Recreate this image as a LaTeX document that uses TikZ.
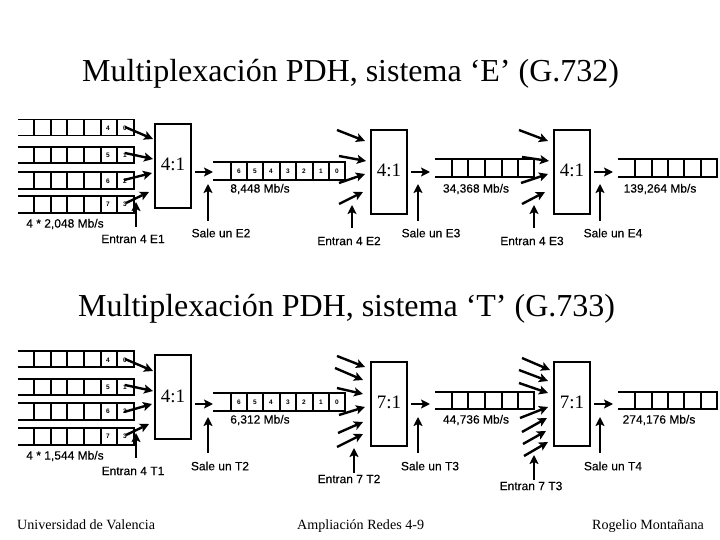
\documentclass[tikz,border=0pt]{standalone}
\usepackage{fontspec}
\setmainfont{Liberation Serif}
\setsansfont[UprightFeatures={FakeBold=0.25}]{Liberation Sans}
\usetikzlibrary{arrows.meta}
\newcounter{flechan}
\newcommand{\flecha}[2]{\stepcounter{flechan}%
  \coordinate (fa\theflechan) at (#1);\coordinate (fb\theflechan) at (#2);%
  \draw[flechast] (fa\theflechan) -- (fb\theflechan);}
% open-left register: start x, list of divider x (last = right end), top y, bottom y
\newcommand{\registro}[5]{%
  \draw[regst] (#1,#3) -- (#5,#3) -- (#5,#4) -- (#1,#4);
  \foreach \xd in {#2} {\draw[regst] (\xd,#3) -- (\xd,#4);}}
\tikzset{
  x=1pt,y=-1pt,
  flechast/.style={line width=2.4pt,-{Stealth[length=9pt,width=9pt,inset=2pt]}},
  regst/.style={line width=1.5pt,black},
  muxbox/.style={draw,line width=1.5pt,minimum width=36pt,inner sep=0pt},
  muxtxt/.style={inner sep=0pt,font=\fontsize{19}{22}\selectfont},
  titulo/.style={inner sep=0pt,anchor=base west,font=\fontsize{32}{34}\selectfont},
  etiq/.style={inner sep=0pt,font=\sffamily\fontsize{12}{14}\selectfont},
  digito/.style={inner sep=0pt,font=\sffamily\bfseries\fontsize{6.5}{7}\selectfont},
  pie/.style={inner sep=0pt,anchor=base west,font=\fontsize{14.1}{17}\selectfont},
}
\begin{document}
\begin{tikzpicture}
\useasboundingbox (0,0) rectangle (720,540);
\fill[white] (0,0) rectangle (720,540);
\node[titulo] (t1) at (82,82) {Multiplexación PDH, sistema ‘E’ (G.732)};
\node[titulo] (t2) at (78,316) {Multiplexación PDH, sistema ‘T’ (G.733)};
% ---- E system: tributaries
\registro{18}{34,51,67,84,101,117}{119.5}{135.5}{134}
\registro{18}{34,51,67,84,101,117}{147}{163}{134}
\registro{18}{34,51,67,84,101,117}{172}{189}{134}
\registro{18}{34,51,67,84,101,117}{196}{213}{134}
\node[digito] (ea4) at (108,128) {4}; \node[digito] (ea0) at (125,128) {0};
\node[digito] (ea5) at (108,155) {5}; \node[digito] (ea1) at (125,155) {1};
\node[digito] (ea6) at (108,181) {6}; \node[digito] (ea2) at (125,181) {2};
\node[digito] (ea7) at (108,204) {7}; \node[digito] (ea3) at (125,204) {3};
\node[muxbox,minimum height=84pt] (em1) at (173,166) {};
\node[muxtxt] (em1t) at (173,164) {4:1};
\flecha{125,127}{153,139}\flecha{125,153}{153,159}\flecha{124,180}{152,173}\flecha{126,203}{149,192}
\flecha{136,227}{136,202}\flecha{195,172}{213,172}\flecha{208,221}{208,184}
% E2 register
\registro{213}{231,247,263,280,296,313,329}{162}{180}{345}
\foreach \xx/\dd in {239/6,255/5,271/4,288/3,304/2,321/1,337/0}{\node[digito] (ed\dd) at (\xx,171) {\dd};}
\node[muxbox,minimum height=84pt] (em2) at (389,172) {};
\node[muxtxt] (em2t) at (389,170) {4:1};
\flecha{337,130}{365,141}\flecha{339,156}{366,161}\flecha{339,183}{365,174}\flecha{339,204}{363,192}
\flecha{352,228}{352,205}\flecha{411,172}{430,172}\flecha{418,221}{418,184}
\registro{435}{452,468,485,502,518}{159}{177}{534}
\node[muxbox,minimum height=84pt] (em3) at (572,172) {};
\node[muxtxt] (em3t) at (572,170) {4:1};
\flecha{519,130}{548,141}\flecha{522,157}{549,161}\flecha{521,183}{548,174}\flecha{522,204}{545,192}
\flecha{534,228}{534,205}\flecha{594,172}{613,172}\flecha{600,221}{600,184}
\registro{618}{635,652,668,684,701}{159}{177}{717}
% E labels
\node[etiq] (l1) at (65,224) {4 * 2,048 Mb/s};
\node[etiq] (l2) at (133,239) {Entran 4 E1};
\node[etiq] (l3) at (260,189) {8,448 Mb/s};
\node[etiq] (l4) at (221,233) {Sale un E2};
\node[etiq] (l5) at (349,241) {Entran 4 E2};
\node[etiq] (l6) at (431,233) {Sale un E3};
\node[etiq] (l7) at (476,189) {34,368 Mb/s};
\node[etiq] (l8) at (532,241) {Entran 4 E3};
\node[etiq] (l9) at (613,233) {Sale un E4};
\node[etiq] (l10) at (660,189) {139,264 Mb/s};
% ---- T system: tributaries
\registro{18}{34,51,67,84,101,117}{351}{367}{134}
\registro{18}{34,51,67,84,101,117}{379}{395}{134}
\registro{18}{34,51,67,84,101,117}{403}{420}{134}
\registro{18}{34,51,67,84,101,117}{428}{445}{134}
\node[digito] (ta4) at (108,360) {4}; \node[digito] (ta0) at (125,360) {0};
\node[digito] (ta5) at (108,387) {5}; \node[digito] (ta1) at (125,387) {1};
\node[digito] (ta6) at (108,411) {6}; \node[digito] (ta2) at (125,411) {2};
\node[digito] (ta7) at (108,436) {7}; \node[digito] (ta3) at (125,436) {3};
\node[muxbox,minimum height=84pt] (tm1) at (173,397) {};
\node[muxtxt] (tm1t) at (173,396) {4:1};
\flecha{125,359}{153,371}\flecha{125,385}{153,391}\flecha{124,412}{152,404}\flecha{126,435}{149,424}
\flecha{136,458}{136,433}\flecha{195,404}{213,404}\flecha{208,453}{208,417}
\registro{213}{231,247,263,280,296,313,329}{393}{411}{345}
\foreach \xx/\dd in {239/6,255/5,271/4,288/3,304/2,321/1,337/0}{\node[digito] (td\dd) at (\xx,402) {\dd};}
\node[muxbox,minimum height=84pt] (tm2) at (389,404) {};
\node[muxtxt] (tm2t) at (389,402) {7:1};
\flecha{337,356}{365,367}\flecha{335,368}{363,380}\flecha{337,388}{363,394}\flecha{339,415}{365,407}\flecha{338,433}{363,422}\flecha{337,447}{363,434}
\flecha{354,473}{354,448}\flecha{411,404}{430,404}\flecha{418,453}{418,417}
\registro{435}{452,468,485,502,518}{392}{409}{534}
\node[muxbox,minimum height=84pt] (tm3) at (572,404) {};
\node[muxtxt] (tm3t) at (572,402) {7:1};
\flecha{522,358}{550,370}\flecha{519,370}{548,381}\flecha{519,383}{548,393}\flecha{520,418}{548,407}\flecha{522,432}{547,418}\flecha{523,444}{546,431}\flecha{524,456}{548,442}
\flecha{534,480}{534,455}\flecha{594,404}{613,404}\flecha{600,453}{600,417}
\registro{618}{635,652,668,684,701}{392}{409}{717}
% T labels
\node[etiq] (m1) at (65,456) {4 * 1,544 Mb/s};
\node[etiq] (m2) at (133,471) {Entran 4 T1};
\node[etiq] (m3) at (260,420) {6,312 Mb/s};
\node[etiq] (m4) at (220,466) {Sale un T2};
\node[etiq] (m5) at (349,479) {Entran 7 T2};
\node[etiq] (m6) at (430,466) {Sale un T3};
\node[etiq] (m7) at (476,420) {44,736 Mb/s};
\node[etiq] (m8) at (531,486) {Entran 7 T3};
\node[etiq] (m9) at (613,466) {Sale un T4};
\node[etiq] (m10) at (659,420) {274,176 Mb/s};
% footer
\node[pie] (p1) at (17,529) {Universidad de Valencia};
\node[pie] (p2) at (297,529) {Ampliación Redes 4-9};
\node[pie] (p3) at (592,529) {Rogelio Montañana};
\end{tikzpicture}
\end{document}
